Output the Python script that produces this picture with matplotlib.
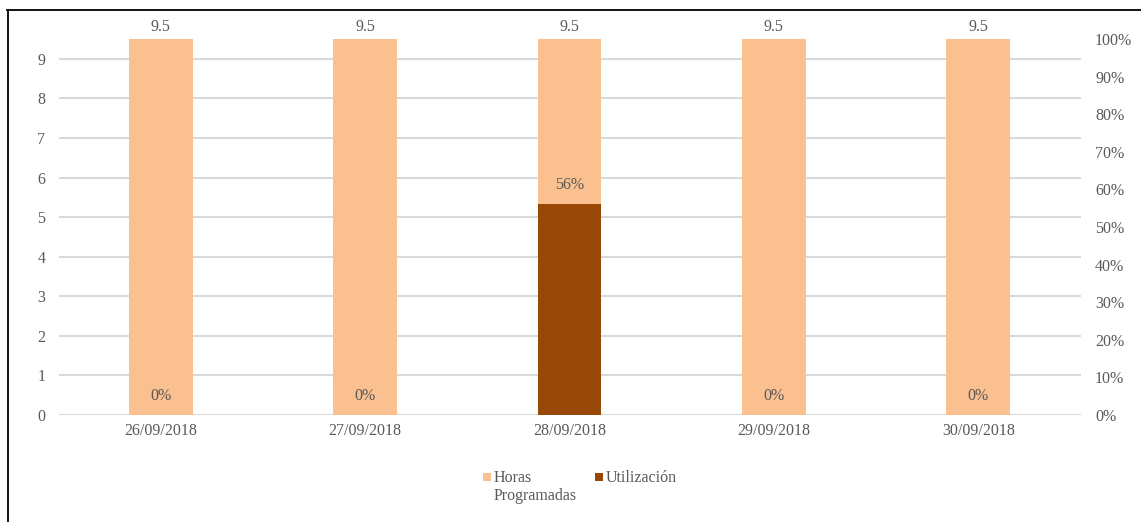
import matplotlib
matplotlib.use("Agg")
import matplotlib.pyplot as plt
from matplotlib.lines import Line2D
from matplotlib.patches import Rectangle

# Data
fechas = ["26/09/2018", "27/09/2018", "28/09/2018", "29/09/2018", "30/09/2018"]
horas_programadas = [9.5, 9.5, 9.5, 9.5, 9.5]
utilizacion = [0.0, 0.0, 0.56, 0.0, 0.0]
leyenda_horas = ["Horas", "Programadas"]
leyenda_util = ["Utilización"]

color_horas = "#FAC090"
color_util = "#974806"
color_texto = "#595959"
color_grid = "#D9D9D9"

plt.rcParams["font.family"] = ["Liberation Serif", "DejaVu Serif"]

W, H = 1141, 522
fig = plt.figure(figsize=(W / 100, H / 100), dpi=100)

# axes placement in pixels
left, right, top, bottom = 58.5, 1080.5, 39.0, 415.0
ax = fig.add_axes([left / W, 1 - bottom / H, (right - left) / W, (bottom - top) / H])
ax2 = ax.twinx()

x = list(range(len(fechas)))
bw = 0.313

ax.bar(x, horas_programadas, width=bw, color=color_horas, zorder=2)
ax.set_xlim(-0.5, len(fechas) - 0.5)
ax.set_ylim(0, 9.5)
ax.set_yticks(range(0, 10))
ax.grid(axis="y", color=color_grid, linewidth=1.5, zorder=0)
ax.set_axisbelow(True)

ax2.bar(x, utilizacion, width=bw, color=color_util, zorder=3)
ax2.set_ylim(0, 1.0)
ax2.set_yticks([i / 10 for i in range(11)])
ax2.set_yticklabels([f"{i * 10}%" for i in range(11)])

for a in (ax, ax2):
    for s in a.spines.values():
        s.set_visible(False)
    a.tick_params(length=0, labelsize=11.5, labelcolor=color_texto)
ax.tick_params(axis="y", pad=9.5)
ax2.tick_params(axis="y", pad=10.5)
ax.tick_params(axis="x", pad=6)
ax.set_xticks(x)
ax.set_xticklabels(fechas)

# value labels
for xi, h in zip(x, horas_programadas):
    ax.annotate(f"{h:g}", (xi, h), xytext=(0, 3), textcoords="offset points",
                ha="center", va="bottom", fontsize=11.5, color=color_texto)
for xi, u in zip(x, utilizacion):
    ax2.annotate(f"{u:.0%}", (xi, u), xytext=(0, 8), textcoords="offset points",
                 ha="center", va="bottom", fontsize=11.5, color=color_texto, zorder=5)

# legend
def px(xp, yp):
    return xp / W, 1 - yp / H

for sx, col, lines in [(483, color_horas, leyenda_horas), (595, color_util, leyenda_util)]:
    fig.patches.append(Rectangle(px(sx, 481), 8 / W, 8 / H, transform=fig.transFigure,
                                 facecolor=col, edgecolor="none"))
    for i, ln in enumerate(lines):
        fig.text(*px(sx + 11, 482 + 17.5 * i), ln, ha="left", va="baseline",
                 fontsize=11.5, color=color_texto)

# frame lines (left and top)
fig.add_artist(Line2D([7.5 / W, 7.5 / W], [0, 1 - 10.3 / H], transform=fig.transFigure,
                      color="black", linewidth=1.3))
fig.add_artist(Line2D([7 / W, 1], [1 - 10.3 / H, 1 - 10.3 / H], transform=fig.transFigure,
                      color="black", linewidth=1.3))

fig.savefig("out.png", dpi=100)
